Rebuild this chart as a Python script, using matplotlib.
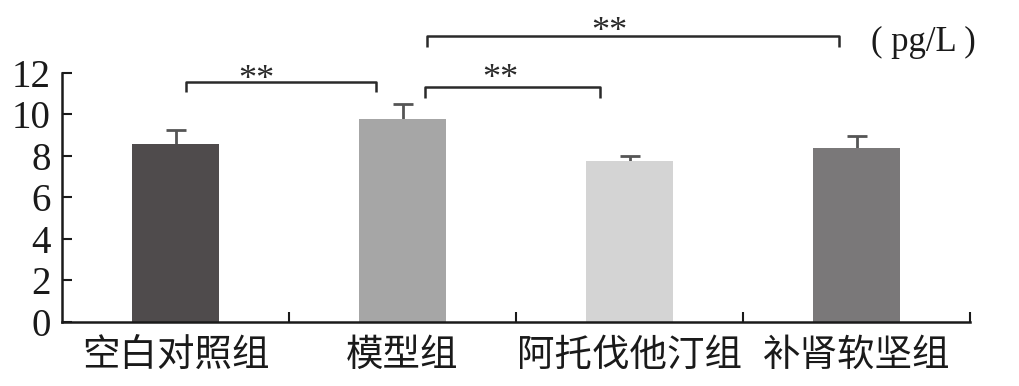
import matplotlib
matplotlib.use("Agg")
import matplotlib.pyplot as plt
import matplotlib.transforms as mtrans
import numpy as np

# ── data ──
groups = ["空白对照组", "模型组", "阿托伐他汀组", "补肾软坚组"]
means = [8.55, 9.77, 7.76, 8.36]
errors = [0.69, 0.71, 0.23, 0.59]
bar_colors = ["#4f4b4c", "#a6a6a6", "#d4d4d4", "#7a7879"]

# significance brackets: (left x, right x, bar height, drop, label)
brackets = [
    (0.044, 0.885, 11.57, 0.50, "**"),
    (1.097, 1.872, 11.30, 0.53, "**"),
    (1.110, 2.925, 13.78, 0.53, "**"),
]
star_x = [0.357, 1.43, 1.91]
star_y = [12.1, 12.13, 14.41]

unit_label = "( pg/L )"

SERIF = ["Liberation Serif", "DejaVu Serif"]
CJK = ["Noto Sans CJK SC", "DejaVu Sans"]

fig = plt.figure(figsize=(10.2, 3.86), dpi=100)
ax = fig.add_axes([0.0608, 0.166, 0.8902, 0.646])

x = np.arange(len(groups))
tops = np.array(means) + np.array(errors)
ax.bar(x, means, width=0.383, color=bar_colors, zorder=2)
ax.vlines(x, means, tops, color="#555555", lw=2.0, zorder=1)
ax.plot(x, tops, ls="none", marker="_", ms=15, mew=2.0, color="#555555",
        zorder=1)

ax.set_xlim(-0.5, 3.5)
ax.set_ylim(0, 12)
ax.set_yticks(np.arange(0, 13, 2))
ax.set_yticklabels([str(v) for v in range(0, 13, 2)], family=SERIF,
                   fontsize=28)
ax.tick_params(axis="y", direction="in", length=7, width=1.5, pad=8,
               colors="#1a1a1a")

ax.set_xticks(x)
ax.set_xticklabels(groups, family=CJK, fontsize=27, color="#1a1a1a")
ax.tick_params(axis="x", which="major", length=0, pad=10)
ax.set_xticks(np.arange(0.5, 4.0, 1.0), minor=True)
ax.tick_params(axis="x", which="minor", direction="in", length=7,
               width=1.5, colors="#1a1a1a")

for s in ["top", "right"]:
    ax.spines[s].set_visible(False)
for s in ["left", "bottom"]:
    ax.spines[s].set_linewidth(1.8)
    ax.spines[s].set_color("#1a1a1a")

# ── significance brackets ──
star_tr = mtrans.offset_copy(ax.transData, fig=fig, x=0, y=-7,
                             units="points")
for (x0, x1, h, d, lab), sx, sy in zip(brackets, star_x, star_y):
    ax.plot([x0, x0, x1, x1], [h - d, h, h, h - d], color="#2a2a2a",
            lw=1.8, clip_on=False, solid_capstyle="butt")
    ax.text(sx, sy, lab, family=SERIF, fontsize=26, ha="center",
            va="center", color="#2a2a2a", clip_on=False, transform=star_tr)

fig.text(0.905, 0.889, unit_label, family=SERIF, fontsize=25,
         ha="center", va="center", color="#1a1a1a")

fig.savefig("out.png", dpi=100)
plt.close(fig)
